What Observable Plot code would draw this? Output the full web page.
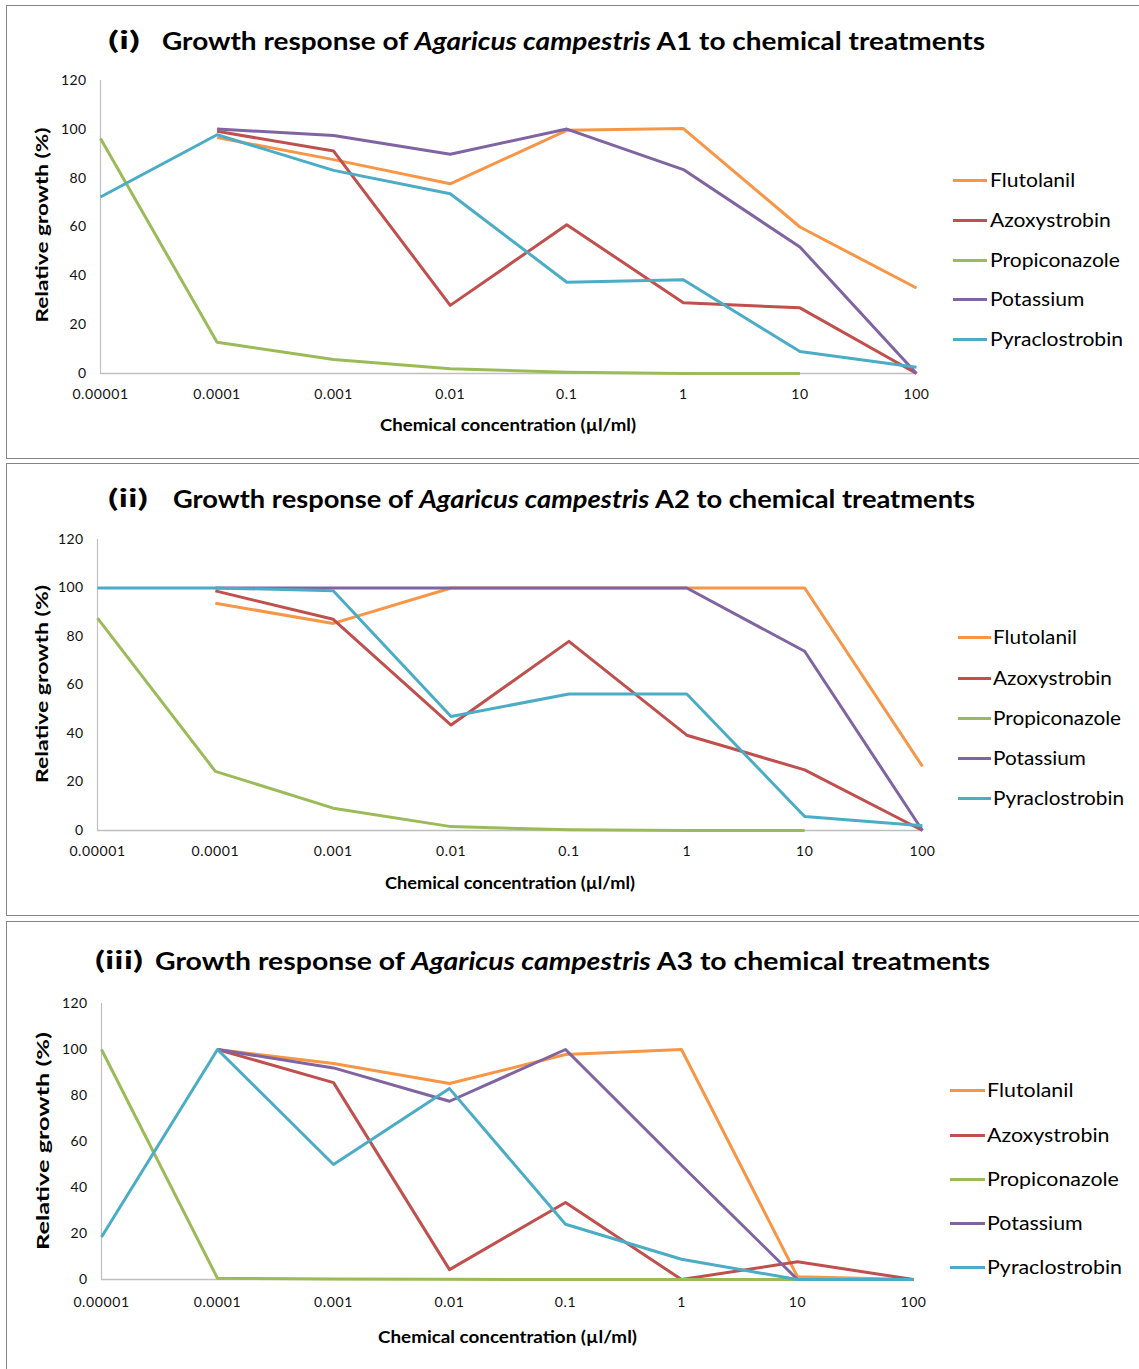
<!DOCTYPE html>
<html><head><meta charset="utf-8">
<script src="https://cdn.jsdelivr.net/npm/d3@7"></script>
<script src="https://cdn.jsdelivr.net/npm/@observablehq/plot@0.6"></script>
<style>
body{margin:0;background:#fff;font-family:Lato,"Open Sans",sans-serif;}
#page{position:relative;width:1139px;height:1369px;overflow:hidden;background:#fff;}
.panel{position:absolute;border:1.5px solid #858585;box-sizing:border-box;}
.abs{position:absolute;white-space:nowrap;line-height:1;color:#000;}
svg text{font-family:Lato,"Open Sans",sans-serif;}
</style></head><body><div id="page"></div>
<script>
// ---------- data ----------
const concentrations = [0.00001, 0.0001, 0.001, 0.01, 0.1, 1, 10, 100];
const tickLabels = ["0.00001", "0.0001", "0.001", "0.01", "0.1", "1", "10", "100"];
const yTicks = [0, 20, 40, 60, 80, 100, 120];
const treatments = ["Flutolanil", "Azoxystrobin", "Propiconazole", "Potassium", "Pyraclostrobin"];
const strains = ["A1", "A2", "A3"];
const romans = ["(i)", "(ii)", "(iii)"];
const titleStart = "Growth response of ";
const speciesName = "Agaricus campestris";
const titleEnd = " to chemical treatments";
const xTitle = "Chemical concentration (µl/ml)";
const yTitle = "Relative growth (%)";

// relative growth (%) at each concentration; null = not measured
const a1Flutolanil     = [null, 96.6, 87.6, 77.7, 99.6, 100.3, 60.0, 35.0];
const a1Azoxystrobin   = [null, 99.2, 91.1, 27.9, 60.9, 29.0, 26.9, 0.0];
const a1Propiconazole  = [96.2, 12.8, 5.7, 1.9, 0.5, 0.0, 0.0, null];
const a1Potassium      = [null, 100.1, 97.5, 89.8, 100.1, 83.5, 51.8, 0.0];
const a1Pyraclostrobin = [72.3, 97.8, 83.2, 73.6, 37.4, 38.4, 9.0, 2.6];

const a2Flutolanil     = [null, 93.7, 85.4, 100, 100, 100, 100, 26.4];
const a2Azoxystrobin   = [null, 98.8, 87.1, 43.5, 78.0, 39.3, 25.0, 0.0];
const a2Propiconazole  = [87.6, 24.4, 9.2, 1.6, 0.3, 0.0, 0.0, null];
const a2Potassium      = [null, 100, 100, 100, 100, 100, 73.9, 0.0];
const a2Pyraclostrobin = [100, 100, 98.9, 47.0, 56.3, 56.3, 5.8, 2.0];

const a3Flutolanil     = [null, 100, 93.9, 85.2, 97.8, 100, 1.2, 0.0];
const a3Azoxystrobin   = [null, 100, 85.6, 4.3, 33.5, 0.0, 7.7, 0.0];
const a3Propiconazole  = [100, 0.5, 0.2, 0.1, 0.0, 0.0, 0.0, null];
const a3Potassium      = [null, 100, 92.0, 77.5, 100, 49.7, 0.0, 0.0];
const a3Pyraclostrobin = [18.5, 100, 50.0, 83.0, 24.0, 8.8, 0.0, 0.0];

const seriesByStrain = [
  [a1Flutolanil, a1Azoxystrobin, a1Propiconazole, a1Potassium, a1Pyraclostrobin],
  [a2Flutolanil, a2Azoxystrobin, a2Propiconazole, a2Potassium, a2Pyraclostrobin],
  [a3Flutolanil, a3Azoxystrobin, a3Propiconazole, a3Potassium, a3Pyraclostrobin]
];

// ---------- styling / layout ----------
const colors = ["#F79646", "#C0504D", "#9BBB59", "#8064A2", "#4BACC6"];
const layout = [
  {box:{left:6, top:5, w:1140, h:454}, x0:100, x1:916, yZero:373, y120:80, tickPad:17,
   roman:{x:108, w:32, cy:40}, text:{x:162, w:823, cy:40},
   xl:{cx:508, cy:425, w:256}, yl:{cx:42, cy:225, w:195},
   legend:{lineX:953, lineW:34, textX:990, rows:[180,220,260,299,339], w:133}},
  {box:{left:6, top:463, w:1140, h:453}, x0:97, x1:922, yZero:830, y120:539, tickPad:17,
   roman:{x:108, w:40, cy:498}, text:{x:173, w:802, cy:498},
   xl:{cx:510, cy:883, w:250}, yl:{cx:42, cy:684, w:198},
   legend:{lineX:958, lineW:33, textX:993, rows:[637,678,718,758,798], w:131}},
  {box:{left:6, top:921, w:1140, h:460}, x0:101, x1:913, yZero:1279, y120:1003, tickPad:19,
   roman:{x:95, w:48, cy:960}, text:{x:155, w:835, cy:960},
   xl:{cx:507, cy:1337, w:259}, yl:{cx:43, cy:1141, w:218},
   legend:{lineX:950, lineW:35, textX:987, rows:[1090,1135,1179,1223,1267], w:135}}
];

const page = document.getElementById("page");

function addText(html, {x, cy, size, weight = 400, w = null, anchor = "start", rotate = false}) {
  const el = document.createElement("div");
  el.className = "abs";
  el.innerHTML = html;
  el.style.fontSize = size + "px";
  el.style.fontWeight = weight;
  el.style.left = "0px";
  el.style.top = "0px";
  page.appendChild(el);
  const r = el.getBoundingClientRect();
  const k = w ? w / r.width : 1;
  if (rotate) {
    el.style.left = x + "px";
    el.style.top = cy + "px";
    el.style.transformOrigin = "50% 50%";
    el.style.transform = `translate(-50%,-50%) rotate(-90deg) scaleX(${k})`;
  } else {
    const left = anchor === "middle" ? x - (w || r.width) / 2 : x;
    el.style.left = left + "px";
    el.style.top = cy + "px";
    el.style.transformOrigin = "0 0";
    el.style.transform = `translateY(-50%) scaleX(${k})`;
  }
  return el;
}

layout.forEach((L, p) => {
  const box = document.createElement("div");
  box.className = "panel";
  Object.assign(box.style, {left: L.box.left + "px", top: L.box.top + "px", width: L.box.w + "px", height: L.box.h + "px"});
  page.appendChild(box);

  // chart
  const rows = [];
  seriesByStrain[p].forEach((vals, s) => {
    vals.forEach((v, i) => { if (v !== null) rows.push({treatment: treatments[s], conc: concentrations[i], growth: v}); });
  });
  const mTop = 20, mBottom = 45, mRight = 30;
  const height = (L.yZero - L.y120) + mTop + mBottom;
  const width = L.x1 + mRight;
  const chart = Plot.plot({
    width, height,
    marginLeft: L.x0, marginRight: mRight, marginTop: mTop, marginBottom: mBottom,
    style: {fontSize: "14px", fontFamily: "Lato, 'Open Sans', sans-serif", color: "#111", background: "transparent", overflow: "visible"},
    x: {type: "log", domain: [concentrations[0], concentrations[concentrations.length - 1]]},
    y: {domain: [0, 120]},
    color: {domain: treatments, range: colors},
    marks: [
      Plot.axisY({ticks: yTicks, tickSize: 0, tickPadding: 14, label: null, fill: "#111"}),
      Plot.axisX({ticks: concentrations, tickFormat: (d) => tickLabels[concentrations.indexOf(d)], tickSize: 0, tickPadding: L.tickPad - 1, label: null, fill: "#111"}),
      Plot.ruleX([concentrations[0]], {y1: 0, y2: 120, stroke: "#BFBFBF", strokeWidth: 1.2}),
      Plot.ruleY([0], {stroke: "#BFBFBF", strokeWidth: 1.5}),
      Plot.line(rows, {x: "conc", y: "growth", z: "treatment", stroke: "treatment", strokeWidth: 3, strokeLinejoin: "round", strokeLinecap: "butt"})
    ]
  });
  chart.style.position = "absolute";
  chart.style.left = "0px";
  chart.style.top = (L.y120 - mTop) + "px";
  chart.querySelectorAll("g[aria-label='x-axis tick label'] text").forEach(t => t.setAttribute("letter-spacing", "0.6"));
  chart.querySelectorAll("g[aria-label='y-axis tick label'] text").forEach(t => t.setAttribute("letter-spacing", "0.4"));
  page.appendChild(chart);

  // title
  addText(romans[p], {x: L.roman.x, cy: L.roman.cy, size: 25.5, weight: 700, w: L.roman.w});
  addText(`${titleStart}<i>${speciesName}</i> ${strains[p]}${titleEnd}`, {x: L.text.x, cy: L.text.cy, size: 25, weight: 700, w: L.text.w});

  // axis titles
  addText(xTitle, {x: L.xl.cx, cy: L.xl.cy, size: 17.5, weight: 700, w: L.xl.w, anchor: "middle"});
  addText(yTitle, {x: L.yl.cx, cy: L.yl.cy, size: 17.5, weight: 700, w: L.yl.w, rotate: true});

  // legend
  const probe = addText(treatments[4], {x: -500, cy: -500, size: 19.5});
  const k = L.legend.w / probe.getBoundingClientRect().width;
  probe.remove();
  treatments.forEach((name, s) => {
    const line = document.createElement("div");
    Object.assign(line.style, {position: "absolute", left: L.legend.lineX + "px", top: (L.legend.rows[s] - 1.5) + "px", width: L.legend.lineW + "px", height: "3px", background: colors[s]});
    page.appendChild(line);
    const el = addText(name, {x: L.legend.textX, cy: L.legend.rows[s], size: 19.5});
    el.style.transform = `translateY(-50%) scaleX(${k})`;
  });
});
</script></body></html>
